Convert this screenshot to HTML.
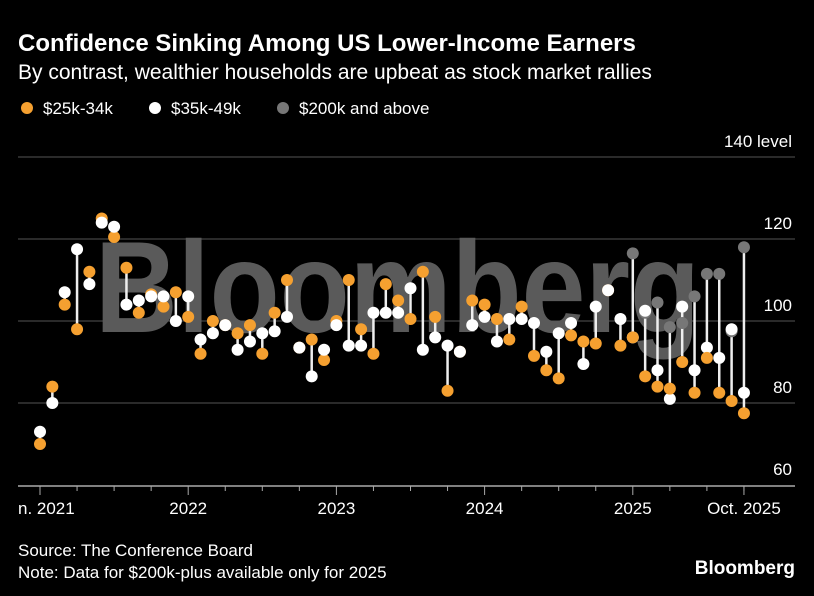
<!DOCTYPE html>
<html><head><meta charset="utf-8">
<style>
body{margin:0;background:#000;width:814px;height:596px;overflow:hidden;font-family:"Liberation Sans",sans-serif;color:#fff}
svg{position:absolute;left:0;top:0}
</style></head>
<body>
<svg width="814" height="596">
<text x="18" y="51" font-size="24" font-weight="bold" fill="#fff">Confidence Sinking Among US Lower-Income Earners</text>
<text x="18" y="79" font-size="21" fill="#fff">By contrast, wealthier households are upbeat as stock market rallies</text>
<g>
<circle cx="27" cy="108" r="6" fill="#f5a030"/>
<text x="43" y="114" font-size="17" fill="#fff">$25k-34k</text>
<circle cx="155" cy="108" r="6" fill="#fff"/>
<text x="171" y="114" font-size="17" fill="#fff">$35k-49k</text>
<circle cx="283" cy="108" r="6" fill="#777"/>
<text x="299" y="114" font-size="17" fill="#fff">$200k and above</text>
</g>
<g id="grid"></g>
<text x="95" y="332" font-size="130" font-weight="bold" fill="#5a5a5a" textLength="605" lengthAdjust="spacingAndGlyphs">Bloomberg</text>
<g id="axis"></g>
<g id="marks"></g>
<text x="18" y="556" font-size="17" fill="#fff">Source: The Conference Board</text>
<text x="18" y="578" font-size="17" fill="#fff">Note: Data for $200k-plus available only for 2025</text>
<text x="795" y="574" font-size="19" font-weight="bold" fill="#fff" text-anchor="end">Bloomberg</text>
</svg>
<script>
const low = [70,84,104,98,112,125,120.5,113,102,106.5,103.5,107,101,92,100,99,97,99,92,102,110,93.5,95.5,90.5,100,110,98,92,109,105,100.5,112,101,83,92.5,105,104,100.5,95.5,103.5,91.5,88,86,96.5,95,94.5,107.5,94,96,86.5,84,83.5,90,82.5,91,82.5,80.5,77.5];
const mid = [73,80,107,117.5,109,124,123,104,105,106,106,100,106,95.5,97,99,93,95,97,97.5,101,93.5,86.5,93,99,94,94,102,102,102,108,93,96,94,92.5,99,101,95,100.5,100.5,99.5,92.5,97,99.5,89.5,103.5,107.5,100.5,96,102.5,88,81,103.5,88,93.5,91,98,82.5];
const high = [null,null,null,null,null,null,null,null,null,null,null,null,null,null,null,null,null,null,null,null,null,null,null,null,null,null,null,null,null,null,null,null,null,null,null,null,null,null,null,null,null,null,null,null,null,null,null,null,116.5,102,104.5,98.5,99.5,106,111.5,111.5,97.5,118];
const yTicks = [60,80,100,120,140];
const xLabels = [["n. 2021",0],["2022",12],["2023",24],["2024",36],["2025",48],["Oct. 2025",57]];
const NS="http://www.w3.org/2000/svg";
const xS = i => 40 + i*12.35;
const yS = v => 321 - (v-100)*4.1;
function mk(tag, attrs, parent){const e=document.createElementNS(NS,tag);for(const k in attrs)e.setAttribute(k,attrs[k]);parent.appendChild(e);return e;}
const grid=document.getElementById('grid'), axis=document.getElementById('axis'), marks=document.getElementById('marks');
yTicks.forEach(v=>{
  if(v>60){const l=mk('line',{x1:18,x2:795,y1:yS(v),y2:yS(v),stroke:'#555','stroke-width':1},grid);
  
  }
  const t=mk('text',{x:792,y:yS(v)-10,'font-size':17,fill:'#fff','text-anchor':'end'},axis);
  t.textContent = v===140 ? '140 level' : String(v);
  
  
});
const al=mk('line',{x1:18,x2:795,y1:486,y2:486,stroke:'#aaa','stroke-width':1.5},axis);


for(let i=0;i<58;i+=3){
  const major=i%12===0;
  const tk=mk('line',{x1:xS(i),x2:xS(i),y1:486,y2:major?495:491,stroke:'#aaa','stroke-width':1},axis);
  
  
}
const ot=mk('line',{x1:xS(57),x2:xS(57),y1:486,y2:495,stroke:'#aaa','stroke-width':1},axis);


xLabels.forEach(([s,i])=>{
  const t=mk('text',{x:i===0?18:xS(i),y:514,'font-size':17,fill:'#fff','text-anchor':i===0?'start':'middle'},axis);
  t.textContent=s;
  
  
});
for(let i=0;i<low.length;i++){
  const vals=[low[i],mid[i]].concat(high[i]!=null?[high[i]]:[]);
  const mn=Math.min(...vals), mx=Math.max(...vals);
  const r=mk('line',{x1:xS(i),x2:xS(i),y1:yS(mx),y2:yS(mn),stroke:'#eee','stroke-width':2.5},marks);
  
  
  const order = high[i]!=null ? [['high',high[i],'#777'],['mid',mid[i],'#fff'],['low',low[i],'#f5a030']] : [['low',low[i],'#f5a030'],['mid',mid[i],'#fff']];
  order.forEach(([n,v,c])=>{
    const d=mk('circle',{cx:xS(i),cy:yS(v),r:6,fill:c},marks);
    
    
  });
}
</script>
</body></html>
